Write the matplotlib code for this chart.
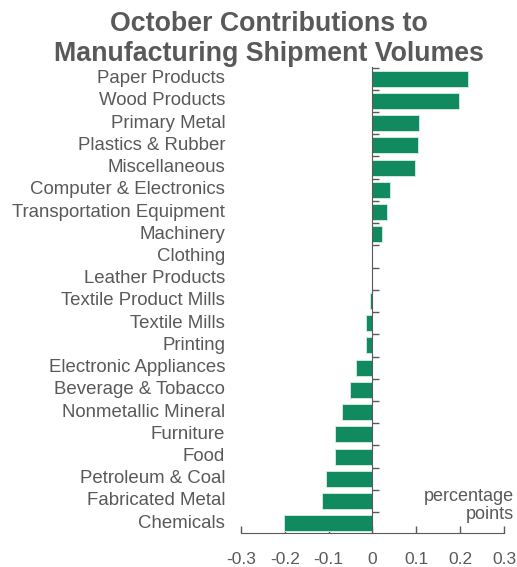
import matplotlib

matplotlib.use('Agg')
import matplotlib.pyplot as plt
import matplotlib.transforms as mtransforms
import numpy as np

plt.rcParams['font.family'] = ['Liberation Sans', 'DejaVu Sans']

categories = [
    'Paper Products', 'Wood Products', 'Primary Metal', 'Plastics & Rubber',
    'Miscellaneous', 'Computer & Electronics', 'Transportation Equipment',
    'Machinery', 'Clothing', 'Leather Products', 'Textile Product Mills',
    'Textile Mills', 'Printing', 'Electronic Appliances', 'Beverage & Tobacco',
    'Nonmetallic Mineral', 'Furniture', 'Food', 'Petroleum & Coal',
    'Fabricated Metal', 'Chemicals',
]
values = [
    0.218, 0.197, 0.106, 0.103, 0.097, 0.040, 0.033, 0.021, -0.001, -0.001,
    -0.006, -0.015, -0.015, -0.037, -0.052, -0.070, -0.085, -0.085, -0.107,
    -0.116, -0.201,
]
xticks = [-0.3, -0.2, -0.1, 0, 0.1, 0.2, 0.3]
xticklabels = ['-0.3', '-0.2', '-0.1', '0', '0.1', '0.2', '0.3']

grey = '#595959'
green = '#108a5e'

fig = plt.figure(figsize=(5.17, 5.67), dpi=100)
ax = fig.add_axes([0.466, 0.06, 0.509, 0.822])

n = len(categories)
ypos = np.arange(n)[::-1]
ax.barh(ypos, values, height=0.72, color=green, edgecolor='#d8efe4', linewidth=0.6, zorder=2)

ax.set_xlim(-0.3, 0.3)
ax.set_ylim(-0.44, n - 0.47)

for s in ['top', 'right']:
    ax.spines[s].set_visible(False)
ax.spines['left'].set_position(('data', 0))
ax.spines['left'].set_color(grey)
ax.spines['bottom'].set_color(grey)
ax.spines['left'].set_zorder(3)

ax.set_yticks(np.arange(n) + 0.5)
ax.set_yticklabels([])
ax.tick_params(axis='y', direction='in', length=5, color=grey, width=1)

ax.set_xticks(xticks)
ax.set_xticklabels(xticklabels)
ax.tick_params(axis='x', direction='in', length=5, color=grey, width=1,
               labelcolor=grey, labelsize=12.5, pad=14)

trans = mtransforms.blended_transform_factory(ax.transAxes, ax.transData)
for y, name in zip(ypos, categories):
    ax.text(-0.06, y, name, transform=trans, ha='right', va='center',
            fontsize=13.4, color=grey)

fig.text(0.52, 0.98, 'October Contributions to\nManufacturing Shipment Volumes',
         ha='center', va='top', fontsize=19.3, fontweight='bold', color=grey,
         linespacing=1.2)
fig.text(0.994, 0.078, 'percentage\npoints', ha='right', va='bottom',
         fontsize=13, color=grey, linespacing=1.05)

fig.savefig('out.png', dpi=100)
